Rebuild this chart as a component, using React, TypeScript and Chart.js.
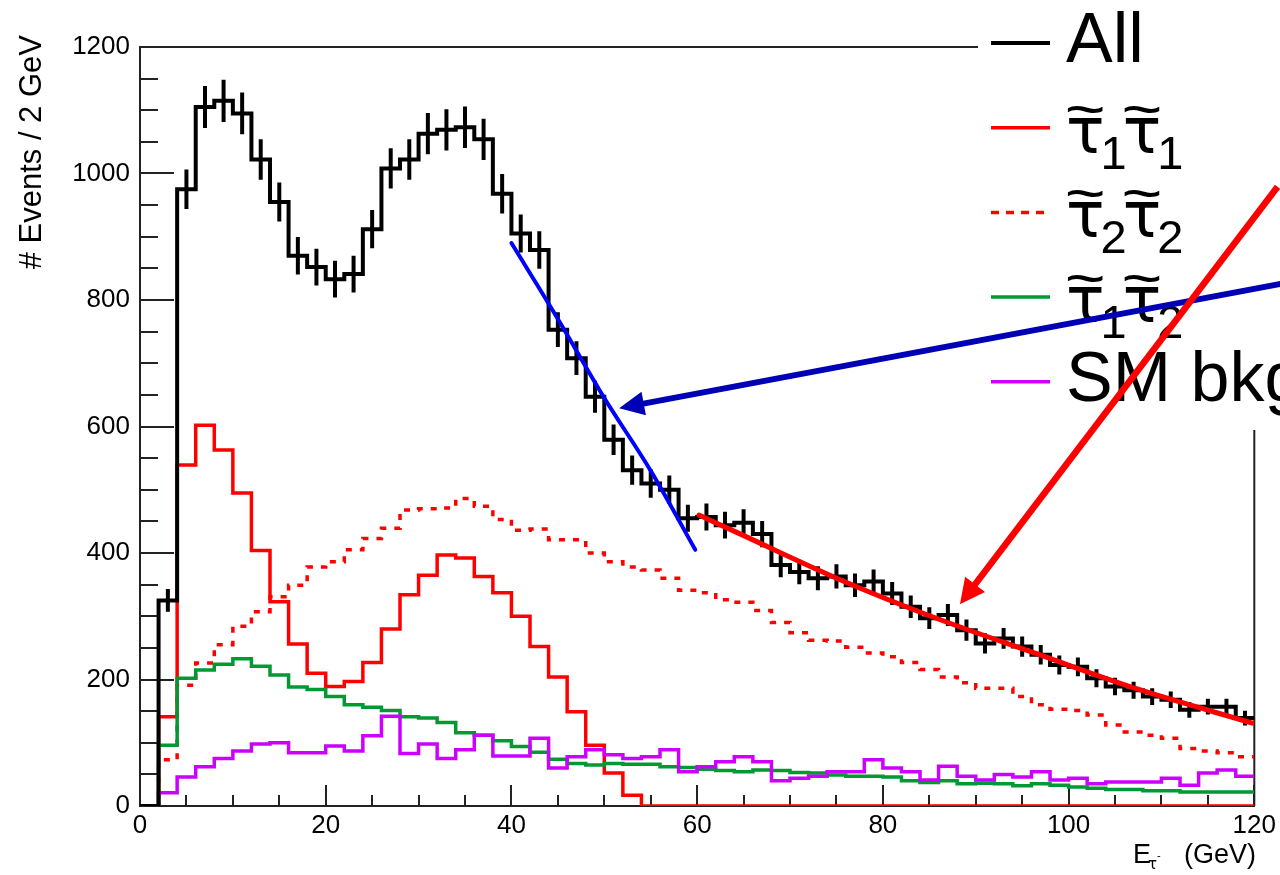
import React, { useEffect, useRef } from "react";
import { Chart, registerables } from "chart.js";

Chart.register(...registerables);

// ---------------- data ----------------
const X_MIN = 0;
const X_MAX = 120;
const BIN_WIDTH = 2; // GeV per bin

// # events per 2 GeV bin, 60 bins from 0 to 120 GeV
const allEvents = [
  0, 325, 975, 1105, 1115, 1095, 1022, 955, 870, 852,
  833, 841, 912, 1008, 1022, 1063, 1069, 1073, 1054, 968,
  905, 879, 753, 708, 647, 579, 531, 510, 500, 455,
  457, 444, 448, 430, 381, 370, 360, 363, 349, 355,
  336, 315, 297, 302, 278, 257, 265, 252, 239, 223,
  220, 202, 189, 183, 173, 168, 152, 157, 157, 139,
];
const stau11 = [
  0, 141, 539, 602, 563, 495, 404, 323, 256, 210,
  189, 197, 227, 280, 334, 365, 397, 392, 363, 337,
  300, 252, 204, 149, 96, 52, 17, 0, 0, 0,
  0, 0, 0, 0, 0, 0, 0, 0, 0, 0,
  0, 0, 0, 0, 0, 0, 0, 0, 0, 0,
  0, 0, 0, 0, 0, 0, 0, 0, 0, 0,
];
const stau22 = [
  0, 73, 191, 226, 255, 284, 307, 331, 349, 378,
  386, 405, 423, 439, 468, 470, 471, 486, 474, 453,
  436, 438, 421, 421, 400, 386, 378, 373, 360, 341,
  337, 326, 322, 309, 290, 274, 262, 261, 251, 242,
  236, 227, 216, 204, 195, 186, 186, 173, 160, 153,
  151, 144, 128, 117, 112, 107, 91, 87, 84, 78,
];
const stau12 = [
  0, 96, 202, 215, 224, 233, 221, 207, 188, 184,
  173, 160, 156, 151, 141, 139, 132, 116, 112, 103,
  94, 85, 74, 67, 65, 67, 66, 66, 62, 61,
  58, 56, 54, 57, 56, 53, 52, 49, 47, 47,
  46, 40, 37, 40, 35, 36, 35, 32, 35, 33,
  30, 28, 26, 26, 24, 24, 22, 22, 22, 22,
];
const smBkg = [
  0, 21, 46, 62, 75, 87, 98, 100, 84, 84,
  95, 87, 111, 142, 83, 98, 75, 89, 112, 79,
  79, 107, 60, 78, 89, 81, 75, 78, 89, 54,
  62, 70, 78, 70, 40, 44, 47, 54, 54, 73,
  60, 54, 41, 63, 47, 41, 50, 46, 54, 41,
  44, 35, 38, 38, 38, 44, 33, 52, 57, 47,
];

// fitted curves drawn over the "All" histogram
const fitSteepX = [40, 45, 50, 55, 59.8];
const fitSteepY = [890, 770, 645, 530, 405];
const fitTailX = [60.2, 64.5, 75.2, 85.9, 96.7, 107.4, 119.8];
const fitTailY = [460, 431, 359, 296, 240, 185, 131];

// annotation arrows (data coordinates: tail -> head)
const arrowBlue = { x1: 123, y1: 826, x2: 51.6, y2: 629 };
const arrowRed = { x1: 122.5, y1: 979, x2: 88.3, y2: 319 };

// axes
const xTickValues = [0, 20, 40, 60, 80, 100, 120];
const xTickLabels = ["0", "20", "40", "60", "80", "100", "120"];
const yTickValues = [0, 200, 400, 600, 800, 1000, 1200];
const yTickLabels = ["0", "200", "400", "600", "800", "1000", "1200"];
const X_MINOR_STEP = 5;
const Y_MINOR_STEP = 50;
const yTitle = "# Events / 2 GeV";

// legend (ROOT-like label syntax: ~τ = tilde tau, _1 = subscript)
const legendLabels = ["All", "~τ_1~τ_1", "~τ_2~τ_2", "~τ_1~τ_2", "SM bkg"];
const legendColors = ["#000000", "#ff0000", "#ff0000", "#009933", "#cc00ff"];
const legendDashed = [false, false, true, false, false];

// ---------------- helpers ----------------
function histPoints(vals: number[]) {
  const pts = vals.map((v, i) => ({ x: X_MIN + i * BIN_WIDTH, y: v }));
  pts.push({ x: X_MAX, y: vals[vals.length - 1] });
  return pts;
}
function errorPoints(vals: number[]) {
  const pts: { x: number; y: number | null }[] = [];
  vals.forEach((v, i) => {
    if (v <= 0) return;
    const c = X_MIN + (i + 0.5) * BIN_WIDTH;
    const e = Math.sqrt(v);
    pts.push({ x: c, y: v - e }, { x: c, y: v + e }, { x: c, y: null });
  });
  return pts;
}
function curvePoints(xs: number[], ys: number[]) {
  return xs.map((x, i) => ({ x, y: ys[i] }));
}

function drawArrow(ctx: CanvasRenderingContext2D, x1: number, y1: number, x2: number, y2: number,
  color: string, width: number, headLen: number, headHalf: number) {
  const dx = x2 - x1, dy = y2 - y1;
  const len = Math.hypot(dx, dy);
  const ux = dx / len, uy = dy / len;
  const bx = x2 - ux * headLen, by = y2 - uy * headLen;
  ctx.save();
  ctx.strokeStyle = color;
  ctx.lineWidth = width;
  ctx.lineCap = "butt";
  ctx.beginPath();
  ctx.moveTo(x1, y1);
  ctx.lineTo(bx + ux * 3, by + uy * 3);
  ctx.stroke();
  ctx.fillStyle = color;
  ctx.beginPath();
  ctx.moveTo(x2, y2);
  ctx.lineTo(bx - uy * headHalf, by + ux * headHalf);
  ctx.lineTo(bx + uy * headHalf, by - ux * headHalf);
  ctx.closePath();
  ctx.fill();
  ctx.restore();
}

function drawLegendLabel(ctx: CanvasRenderingContext2D, label: string, x: number, lineY: number) {
  ctx.fillStyle = "#000";
  ctx.textAlign = "left";
  ctx.textBaseline = "alphabetic";
  if (!label.includes("~")) {
    ctx.font = '70px "Liberation Sans"';
    ctx.fillText(label, x, lineY + 19);
    return;
  }
  const base = lineY + 25;
  let cx = x;
  let i = 0;
  while (i < label.length) {
    const c = label[i];
    if (c === "~") {
      const ch = label[i + 1];
      ctx.font = '64px "DejaVu Sans"';
      const w = ctx.measureText(ch).width;
      ctx.fillText(ch, cx, base);
      ctx.save();
      ctx.font = '50px "Liberation Sans"';
      ctx.textAlign = "center";
      ctx.translate(cx + w * 0.5, base - 24);
      ctx.scale(1.4, 1.2);
      ctx.fillText("~", 0, 0);
      ctx.restore();
      cx += w - 4;
      i += 2;
    } else if (c === "_") {
      const ch = label[i + 1];
      ctx.font = '47px "Liberation Sans"';
      ctx.fillText(ch, cx, base + 16);
      cx += ctx.measureText(ch).width - 4;
      i += 2;
    } else {
      ctx.font = '70px "Liberation Sans"';
      ctx.fillText(c, cx, base);
      cx += ctx.measureText(c).width;
      i += 1;
    }
  }
}

const rootStyle = {
  id: "rootStyle",
  beforeDatasetsDraw(chart: any) {
    const ctx: CanvasRenderingContext2D = chart.ctx;
    const ca = chart.chartArea;
    const xs = chart.scales.x;
    const ys = chart.scales.y;
    ctx.save();
    ctx.strokeStyle = "#222";
    ctx.lineWidth = 2;
    // frame top / right
    ctx.beginPath();
    ctx.moveTo(ca.left, ca.top);
    ctx.lineTo(ca.right, ca.top);
    ctx.lineTo(ca.right, ca.bottom);
    ctx.stroke();
    // inward ticks
    ctx.beginPath();
    for (let v = X_MIN; v <= X_MAX + 1e-9; v += X_MINOR_STEP) {
      const px = Math.round(xs.getPixelForValue(v));
      const major = xTickValues.includes(v);
      ctx.moveTo(px, ca.bottom);
      ctx.lineTo(px, ca.bottom - (major ? 21 : 11));
    }
    for (let v = 0; v <= 1200 + 1e-9; v += Y_MINOR_STEP) {
      const py = Math.round(ys.getPixelForValue(v));
      const major = yTickValues.includes(v);
      ctx.moveTo(ca.left, py);
      ctx.lineTo(ca.left + (major ? 34 : 18), py);
    }
    ctx.stroke();
    ctx.restore();
  },
  afterDraw(chart: any) {
    const ctx: CanvasRenderingContext2D = chart.ctx;
    const xs = chart.scales.x;
    const ys = chart.scales.y;
    ctx.save();
    // y-axis title (rotated, aligned to top end)
    ctx.save();
    ctx.fillStyle = "#000";
    ctx.font = '31px "Liberation Sans"';
    ctx.translate(32, 35);
    ctx.rotate(-Math.PI / 2);
    ctx.textAlign = "right";
    ctx.textBaseline = "middle";
    ctx.fillText(yTitle, 0, 0);
    ctx.restore();
    // x-axis title E_tau (GeV)
    ctx.fillStyle = "#000";
    ctx.textBaseline = "alphabetic";
    ctx.textAlign = "left";
    const by = 863;
    let tx = 1133;
    ctx.font = '27px "Liberation Sans"';
    ctx.fillText("E", tx, by);
    tx += ctx.measureText("E").width - 3;
    ctx.font = '15px "DejaVu Sans"';
    ctx.fillText("τ", tx, by + 6);
    const tw = ctx.measureText("τ").width;
    ctx.font = '11px "Liberation Sans"';
    ctx.fillText("-", tx + tw, by - 4);
    ctx.font = '27px "Liberation Sans"';
    ctx.textAlign = "right";
    ctx.fillText("(GeV)", 1256, by);

    // legend box
    ctx.fillStyle = "#ffffff";
    ctx.fillRect(978, 0, 302, 430);
    const x0 = 991, x1 = 1050, textX = 1066;
    legendLabels.forEach((lab, i) => {
      const ly = 43 + i * 84.7;
      ctx.save();
      ctx.strokeStyle = legendColors[i];
      ctx.lineWidth = i === 0 ? 4 : 3.5;
      ctx.setLineDash(legendDashed[i] ? [8, 7] : []);
      ctx.beginPath();
      ctx.moveTo(x0, ly);
      ctx.lineTo(legendDashed[i] ? x1 - 4 : x1, ly);
      ctx.stroke();
      ctx.restore();
      drawLegendLabel(ctx, lab, textX, ly);
    });

    // arrows
    drawArrow(ctx, xs.getPixelForValue(arrowBlue.x1), ys.getPixelForValue(arrowBlue.y1),
      xs.getPixelForValue(arrowBlue.x2), ys.getPixelForValue(arrowBlue.y2), "#0000b4", 6, 25, 12);
    drawArrow(ctx, xs.getPixelForValue(arrowRed.x1), ys.getPixelForValue(arrowRed.y1),
      xs.getPixelForValue(arrowRed.x2), ys.getPixelForValue(arrowRed.y2), "#ff0000", 6.5, 25, 12.5);
    ctx.restore();
  },
};

export default function App() {
  const ref = useRef<HTMLCanvasElement>(null);
  useEffect(() => {
    const canvas = ref.current;
    if (!canvas) return;
    const base = {
      pointRadius: 0,
      pointHoverRadius: 0,
      fill: false,
      tension: 0,
      borderCapStyle: "butt" as const,
      borderJoinStyle: "miter" as const,
    };
    const chart = new Chart(canvas, {
      type: "line",
      data: {
        datasets: [
          { ...base, label: "fit tail", data: curvePoints(fitTailX, fitTailY), borderColor: "#ff0000", borderWidth: 5, cubicInterpolationMode: "monotone" as const, borderCapStyle: "round" as const },
          { ...base, label: "fit steep", data: curvePoints(fitSteepX, fitSteepY), borderColor: "#0000ff", borderWidth: 4, cubicInterpolationMode: "monotone" as const, borderCapStyle: "round" as const },
          { ...base, label: "All errors", data: errorPoints(allEvents), borderColor: "#000000", borderWidth: 4, spanGaps: false },
          { ...base, label: "All", data: histPoints(allEvents), borderColor: "#000000", borderWidth: 4, stepped: true },
          { ...base, label: "SM bkg", data: histPoints(smBkg), borderColor: "#cc00ff", borderWidth: 3.5, stepped: true },
          { ...base, label: "stau1 stau2", data: histPoints(stau12), borderColor: "#009933", borderWidth: 3.5, stepped: true },
          { ...base, label: "stau2 stau2", data: histPoints(stau22), borderColor: "#ff0000", borderWidth: 3.5, stepped: true, borderDash: [6, 8] },
          { ...base, label: "stau1 stau1", data: histPoints(stau11), borderColor: "#ff0000", borderWidth: 3.5, stepped: true },
        ] as any,
      },
      options: {
        animation: false,
        responsive: false,
        devicePixelRatio: 1,
        events: [],
        layout: { padding: { left: 0, right: 23, top: 47, bottom: 0 } },
        plugins: { legend: { display: false }, tooltip: { enabled: false }, title: { display: false } },
        scales: {
          x: {
            type: "linear",
            min: X_MIN,
            max: X_MAX,
            afterFit: (s: any) => { s.height = 69; },
            grid: { display: false, drawTicks: false },
            border: { display: true, color: "#222", width: 2 },
            ticks: {
              stepSize: 20,
              autoSkip: false,
              maxRotation: 0,
              padding: 4,
              color: "#000",
              font: { family: "Liberation Sans", size: 26 },
              callback: (v: any) => {
                const k = xTickValues.indexOf(Number(v));
                return k >= 0 ? xTickLabels[k] : "";
              },
            },
          },
          y: {
            type: "linear",
            min: 0,
            max: 1200,
            afterFit: (s: any) => { s.width = 140; },
            grid: { display: false, drawTicks: false },
            border: { display: true, color: "#222", width: 2 },
            ticks: {
              stepSize: 200,
              autoSkip: false,
              padding: 10,
              color: "#000",
              font: { family: "Liberation Sans", size: 26 },
              callback: (v: any) => {
                const k = yTickValues.indexOf(Number(v));
                return k >= 0 ? yTickLabels[k] : "";
              },
            },
          },
        },
      } as any,
      plugins: [rootStyle as any],
    });
    return () => chart.destroy();
  }, []);
  return (
    <div style={{ position: "fixed", left: 0, top: 0, width: 1280, height: 875, background: "#fff", overflow: "hidden" }}>
      <canvas ref={ref} width={1280} height={875} style={{ display: "block", width: 1280, height: 875 }} />
    </div>
  );
}
